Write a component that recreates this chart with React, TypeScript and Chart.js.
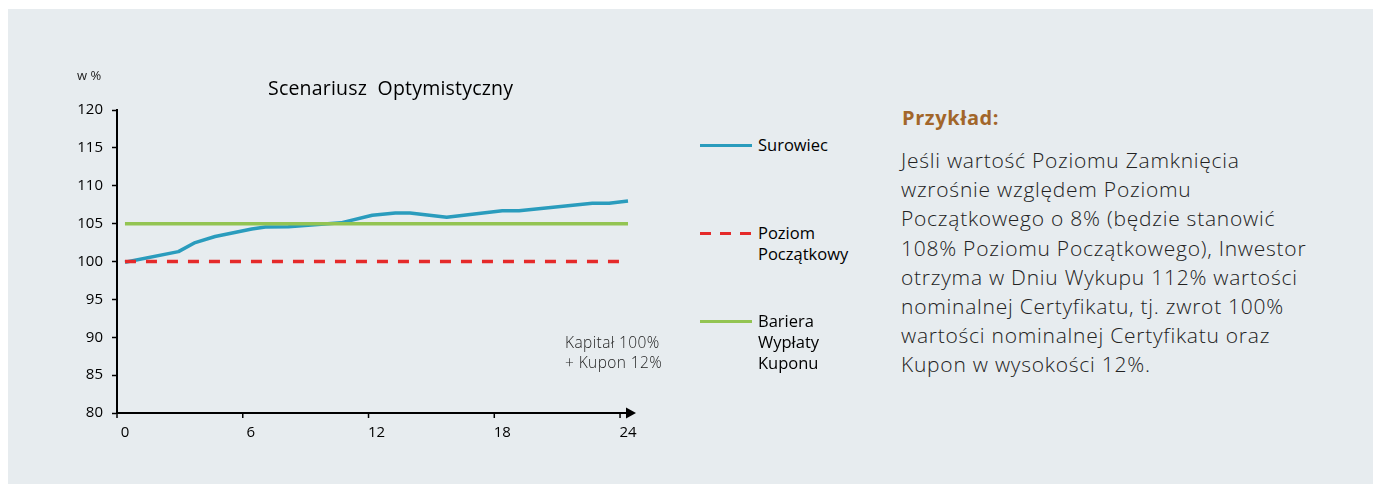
import React, { useEffect, useRef } from "react";
import { Chart, registerables } from "chart.js";

Chart.register(...registerables);

// ---- data ----
const surowiecMonths = [0, 2.55, 3.35, 4.3, 6.05, 6.7, 7.8, 10.3, 11.8, 12.9, 13.6, 15.35, 18.0, 18.8, 22.3, 23.1, 24];
const surowiecValues = [99.9, 101.3, 102.5, 103.3, 104.3, 104.55, 104.6, 105.1, 106.1, 106.4, 106.4, 105.85, 106.7, 106.7, 107.7, 107.7, 108.0];
const poziomMonths = [0, 24];
const poziomValues = [100, 100];
const barieraMonths = [0, 24];
const barieraValues = [105, 105];
const xTickValues = [0, 6, 12, 18, 24];
const yMin = 80;
const yMax = 120;
const yStep = 5;

const chartTitle = "Scenariusz  Optymistyczny";
const yUnitLabel = "w %";
const seriesNames = ["Surowiec", "Poziom\nPoczątkowy", "Bariera\nWypłaty\nKuponu"];
const annotationLines = ["Kapitał 100%", "+ Kupon 12%"];
const exampleHeading = "Przykład:";
const exampleLines = [
  "Jeśli wartość Poziomu Zamknięcia",
  "wzrośnie względem Poziomu",
  "Początkowego o 8% (będzie stanowić",
  "108% Poziomu Początkowego), Inwestor",
  "otrzyma w Dniu Wykupu 112% wartości",
  "nominalnej Certyfikatu, tj. zwrot 100%",
  "wartości nominalnej Certyfikatu oraz",
  "Kupon w wysokości 12%.",
];

const BLUE = "#2a9cbd";
const RED = "#e52a2a";
const GREEN = "#93c452";
const BG = "#e7ecef";
const FONT = "'Open Sans', 'DejaVu Sans', sans-serif";

const toPoints = (xs: number[], ys: number[]) => xs.map((x, i) => ({ x, y: ys[i] }));

const axisPlugin = {
  id: "customXAxis",
  afterDraw(chart: any) {
    const { ctx, chartArea, scales } = chart;
    const xs = scales.x;
    const y = chartArea.bottom;
    const p24 = xs.getPixelForValue(xTickValues[xTickValues.length - 1]);
    ctx.save();
    ctx.strokeStyle = "#000";
    ctx.fillStyle = "#000";
    ctx.lineWidth = 2;
    ctx.beginPath();
    ctx.moveTo(chartArea.left - 1, y);
    ctx.lineTo(p24 - 1, y);
    ctx.stroke();
    ctx.beginPath();
    ctx.moveTo(p24 - 2, y - 5.5);
    ctx.lineTo(p24 + 8, y);
    ctx.lineTo(p24 - 2, y + 5.5);
    ctx.closePath();
    ctx.fill();
    ctx.lineWidth = 1.5;
    xTickValues.forEach((v) => {
      const px = xs.getPixelForValue(v - 0.38);
      ctx.beginPath();
      ctx.moveTo(px, y);
      ctx.lineTo(px, y + 5);
      ctx.stroke();
    });
    ctx.restore();
  },
};

function ChartCanvas() {
  const ref = useRef<HTMLCanvasElement | null>(null);
  useEffect(() => {
    if (!ref.current) return;
    const chart = new Chart(ref.current, {
      type: "line",
      data: {
        datasets: [
          {
            label: "Bariera Wypłaty Kuponu",
            data: toPoints(barieraMonths, barieraValues),
            borderColor: GREEN,
            borderWidth: 3.5,
            pointRadius: 0,
            tension: 0,
          },
          {
            label: "Poziom Początkowy",
            data: toPoints(poziomMonths, poziomValues),
            borderColor: RED,
            borderWidth: 3.5,
            borderDash: [11, 10],
            pointRadius: 0,
            tension: 0,
          },
          {
            label: "Surowiec",
            data: toPoints(surowiecMonths, surowiecValues),
            borderColor: BLUE,
            borderWidth: 3.5,
            borderJoinStyle: "round",
            pointRadius: 0,
            tension: 0,
          },
        ],
      },
      options: {
        animation: false,
        responsive: false,
        maintainAspectRatio: false,
        events: [],
        layout: { padding: { left: 77, top: 110, right: 67.8, bottom: 31 } },
        plugins: { legend: { display: false }, tooltip: { enabled: false }, title: { display: false } },
        scales: {
          x: {
            type: "linear",
            min: -0.38,
            max: 24.2,
            afterFit: (s: any) => {
              s.height = 40;
            },
            afterBuildTicks: (s: any) => {
              s.ticks = xTickValues.map((v) => ({ value: v }));
            },
            grid: { display: false, drawTicks: false },
            border: { display: false },
            ticks: {
              padding: 11,
              color: "#000",
              font: { family: FONT, size: 15, weight: "500" },
              maxRotation: 0,
              autoSkip: false,
              callback: (v: any) => String(v),
            },
          },
          y: {
            min: yMin,
            max: yMax,
            afterFit: (s: any) => {
              s.width = 40;
            },
            grid: {
              display: true,
              drawOnChartArea: false,
              drawTicks: true,
              tickLength: 5,
              tickWidth: 1.5,
              tickColor: "#000",
            },
            border: { display: true, color: "#000", width: 2 },
            ticks: {
              stepSize: yStep,
              padding: 9,
              color: "#000",
              font: { family: FONT, size: 15, weight: "500" },
            },
          },
        },
      },
      plugins: [axisPlugin],
    } as any);
    return () => chart.destroy();
  }, []);
  return (
    <canvas
      ref={ref}
      width={700}
      height={484}
      style={{ position: "absolute", left: 0, top: 0, width: 700, height: 484 }}
    />
  );
}

export default function App() {
  const legendTop = [134, 222, 310];
  const legendLineY = [145, 233, 321];
  return (
    <div style={{ position: "absolute", left: 0, top: 0, width: 1373, height: 484, background: "#fff", overflow: "hidden", fontFamily: FONT }}>
      <div style={{ position: "absolute", left: 8, top: 9, width: 1365, height: 475, background: BG }} />
      <ChartCanvas />
      <div style={{ position: "absolute", left: 77, top: 67, fontSize: 13, color: "#222", lineHeight: "16px" }}>{yUnitLabel}</div>
      <div style={{ position: "absolute", left: 268, top: 75, fontSize: 19.5, fontWeight: 500, color: "#000", lineHeight: "26px", whiteSpace: "pre", letterSpacing: "0.2px" }}>
        {chartTitle}
      </div>
      {seriesNames.map((name, i) => (
        <React.Fragment key={i}>
          <div
            style={{
              position: "absolute",
              left: 700,
              top: legendLineY[i] - 1.5,
              width: 52,
              height: 3,
              background:
                i === 1
                  ? `repeating-linear-gradient(90deg, ${RED} 0 11px, transparent 11px 20px)`
                  : i === 0
                  ? BLUE
                  : GREEN,
            }}
          />
          <div
            style={{
              position: "absolute",
              left: 758,
              top: legendTop[i],
              fontSize: 16.5,
              fontWeight: 500,
              color: "#000",
              lineHeight: "21px",
              whiteSpace: "pre",
            }}
          >
            {name}
          </div>
        </React.Fragment>
      ))}
      <div style={{ position: "absolute", left: 565, top: 332, fontSize: 15.5, fontWeight: 300, color: "#222", lineHeight: "20px", whiteSpace: "pre", letterSpacing: "0.4px" }}>
        {annotationLines.join("\n")}
      </div>
      <div style={{ position: "absolute", left: 902, top: 104, fontSize: 20, fontWeight: 700, color: "#a2662a", lineHeight: "28px", letterSpacing: "0.6px" }}>
        {exampleHeading}
      </div>
      <div style={{ position: "absolute", left: 901, top: 146, fontSize: 21, fontWeight: 300, color: "#222", lineHeight: "29.2px", whiteSpace: "pre", letterSpacing: "0.75px" }}>
        {exampleLines.join("\n")}
      </div>
    </div>
  );
}
